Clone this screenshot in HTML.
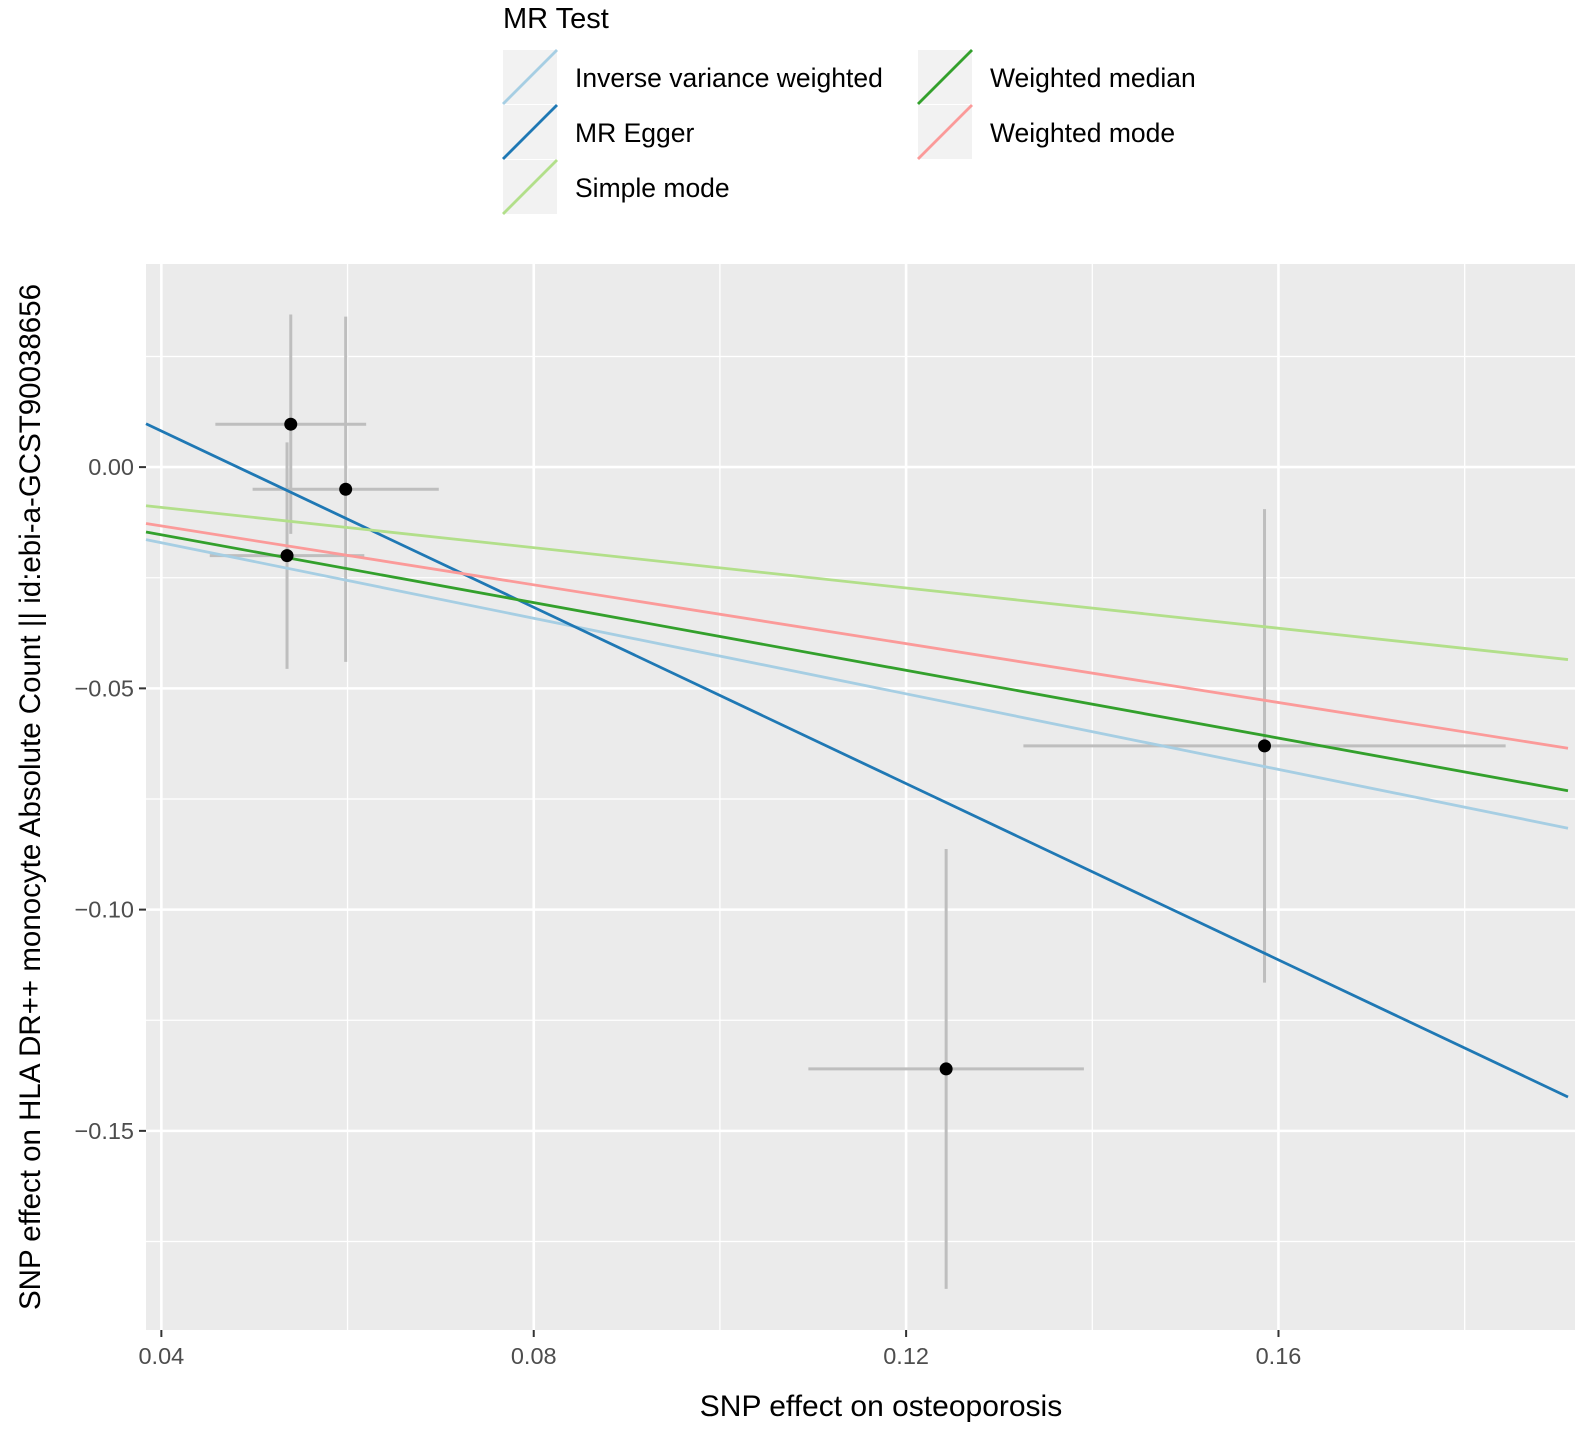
<!DOCTYPE html>
<html><head><meta charset="utf-8"><style>
body{margin:0;background:#fff;width:1575px;height:1430px;overflow:hidden}
svg text{font-family:"Liberation Sans",Arial,sans-serif}
</style></head><body>
<svg id="chart" width="1575" height="1430" xmlns="http://www.w3.org/2000/svg">
<g id="legend">
<text x="503" y="28" font-size="29" fill="#000">MR Test</text>
</g>
<g id="plot"></g>
<text x="881" y="1416" font-size="30" text-anchor="middle" fill="#000">SNP effect on osteoporosis</text>
<text transform="translate(40,797) rotate(-90)" font-size="29.5" text-anchor="middle" fill="#000">SNP effect on HLA DR++ monocyte Absolute Count || id:ebi-a-GCST90038656</text>
</svg>
<script>
const snpX=[0.0539,0.0598,0.0535,0.1243,0.1585];
const snpY=[0.0097,-0.0050,-0.0200,-0.1360,-0.0630];
const seX=[0.0081,0.0100,0.0083,0.0148,0.0259];
const seY=[0.0248,0.0390,0.0256,0.0497,0.0535];
const methods=["Inverse variance weighted","MR Egger","Simple mode","Weighted median","Weighted mode"];
const slopes=[-0.427,-0.996,-0.2276,-0.3827,-0.3325];
const intercepts=[0,0.048,0,0,0];
const colors=["#A6CEE3","#1F78B4","#B2DF8A","#33A02C","#FB9A99"];
const xTicks=[0.04,0.08,0.12,0.16];
const yTicks=[0,-0.05,-0.10,-0.15];
const xTickLabels=["0.04","0.08","0.12","0.16"];
const yTickLabels=["0.00","\u22120.05","\u22120.10","\u22120.15"];
const X0=146,X1=1568,Y0=264,Y1=1330;
const xMin=0.03835,xMax=0.1911,yMax=0.0459,yMin=-0.1950;
const sx=v=>X0+(v-xMin)/(xMax-xMin)*(X1-X0);
const sy=v=>Y0+(yMax-v)/(yMax-yMin)*(Y1-Y0);
const NS="http://www.w3.org/2000/svg";
const plot=document.getElementById('plot');
function mk(tag,attrs,parent){const e=document.createElementNS(NS,tag);for(const k in attrs)e.setAttribute(k,attrs[k]);(parent||plot).appendChild(e);return e;}
let e=mk('rect',{x:X0,y:Y0,width:X1-X0+10,height:Y1-Y0,fill:'#EBEBEB'});


for(let i=0;i<xTicks.length;i++){const v=xTicks[i]+0.02;e=mk('line',{x1:sx(v),x2:sx(v),y1:Y0,y2:Y1,stroke:'#fff','stroke-width':1.3});

}
for(let v=0.025;v>-0.2;v-=0.05){e=mk('line',{x1:X0,x2:X1+10,y1:sy(v),y2:sy(v),stroke:'#fff','stroke-width':1.3});

}
for(let i=0;i<xTicks.length;i++){const x=sx(xTicks[i]);
e=mk('line',{x1:x,x2:x,y1:Y0,y2:Y1,stroke:'#fff','stroke-width':2.6});


e=mk('line',{x1:x,x2:x,y1:Y1,y2:Y1+7,stroke:'#333','stroke-width':2});


e=mk('text',{x:x,y:Y1+34,'font-size':23.5,'text-anchor':'middle',fill:'#4D4D4D'});e.textContent=xTickLabels[i];

}
for(let i=0;i<yTicks.length;i++){const y=sy(yTicks[i]);
e=mk('line',{x1:X0,x2:X1+10,y1:y,y2:y,stroke:'#fff','stroke-width':2.6});


e=mk('line',{x1:X0-7,x2:X0,y1:y,y2:y,stroke:'#333','stroke-width':2});


e=mk('text',{x:X0-12,y:y+8,'font-size':23.5,'text-anchor':'end',fill:'#4D4D4D'});e.textContent=yTickLabels[i];

}
for(let i=0;i<snpX.length;i++){
e=mk('line',{x1:sx(snpX[i]-seX[i]),x2:sx(snpX[i]+seX[i]),y1:sy(snpY[i]),y2:sy(snpY[i]),stroke:'#BEBEBE','stroke-width':3});


e=mk('line',{x1:sx(snpX[i]),x2:sx(snpX[i]),y1:sy(snpY[i]+seY[i]),y2:sy(snpY[i]-seY[i]),stroke:'#BEBEBE','stroke-width':3});

}
for(let i=0;i<methods.length;i++){
e=mk('line',{x1:sx(xMin),y1:sy(intercepts[i]+slopes[i]*xMin),x2:sx(xMax),y2:sy(intercepts[i]+slopes[i]*xMax),stroke:colors[i],'stroke-width':2.8});

}
for(let i=0;i<snpX.length;i++){e=mk('circle',{cx:sx(snpX[i]),cy:sy(snpY[i]),r:6.5,fill:'#000'});

}
const lg=document.getElementById('legend');
for(let i=0;i<methods.length;i++){
const col=i<3?0:1,row=i<3?i:i-3;
const kx=col?918:503,ky=50+row*55;
e=mk('rect',{x:kx,y:ky,width:54,height:54,fill:'#F2F2F2'},lg);


e=mk('line',{x1:kx,y1:ky+54,x2:kx+54,y2:ky,stroke:colors[i],'stroke-width':2.8},lg);


e=mk('text',{x:kx+72,y:ky+37,'font-size':26.5,fill:'#000'},lg);e.textContent=methods[i];

}
</script>
</body></html>
